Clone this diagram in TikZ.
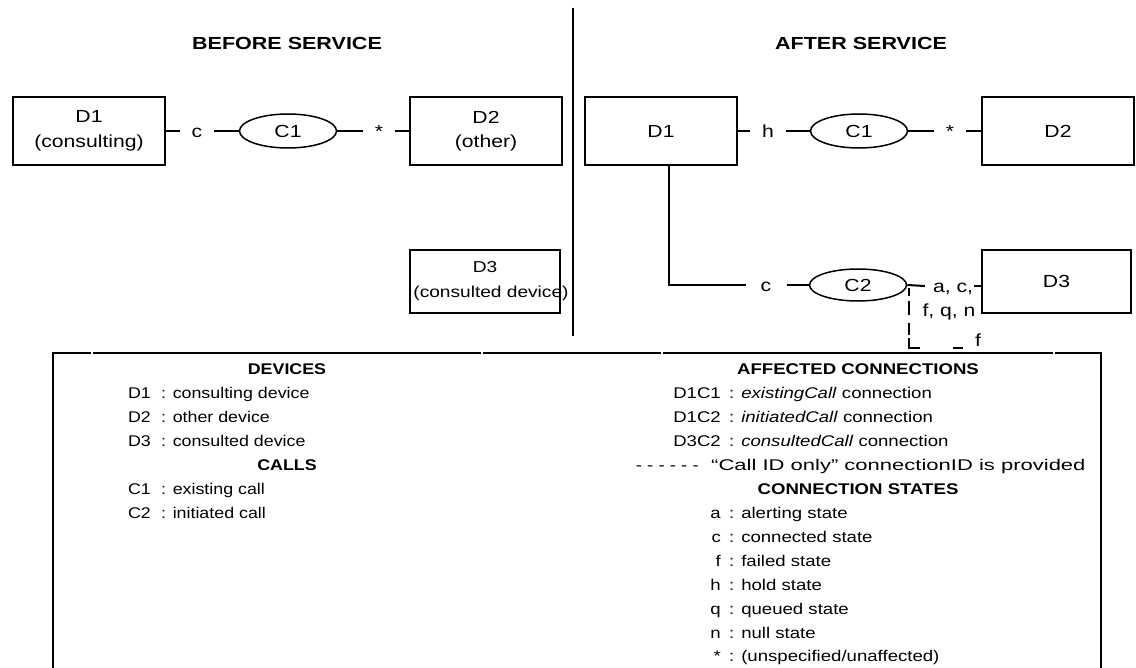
\documentclass[tikz,border=0pt]{standalone}
\usepackage{fontspec}
\setmainfont{Liberation Sans}
\usepackage{graphicx}
\usetikzlibrary{shapes.geometric}
\newcommand{\sx}[1]{\scalebox{1.21}[1]{#1}}
\newcommand{\sxt}[1]{\scalebox{1.23}[1]{#1}}
\newcommand{\sxl}[1]{\scalebox{1.15}[1]{#1}}
\newcommand{\sxr}[1]{\scalebox{1.2}[1]{#1}}
\newcommand{\dgfont}{\fontsize{17.5}{24.5}\selectfont}
\newcommand{\dgsfont}{\fontsize{15.8}{25}\selectfont}
\newcommand{\lgfont}{\fontsize{15.5}{18}\selectfont}
\tikzset{
  dev/.style={draw, line width=2pt, minimum width=152pt, minimum height=68pt, align=center, font=\dgfont, inner sep=0pt},
  call/.style={draw, ellipse, line width=1.5pt, minimum width=97pt, minimum height=34pt, inner sep=0pt, font=\dgfont},
  st/.style={font=\dgfont, inner xsep=12pt, inner ysep=0pt, text height=12.5pt, text depth=0pt},
  conn/.style={line width=2pt},
  frame/.style={line width=2.5pt},
  ttl/.style={font=\dgfont\bfseries, inner sep=0pt, text height=12.5pt, text depth=0pt},
  head/.style={font=\lgfont\bfseries, inner sep=0pt, text height=11pt, text depth=0pt},
  key/.style={anchor=east, inner sep=0pt, font=\lgfont, text height=11pt, text depth=0pt},
  desc/.style={anchor=west, inner sep=0pt, font=\lgfont, text height=11pt, text depth=0pt},
}
\begin{document}
\begin{tikzpicture}[x=1pt,y=-1pt]
\useasboundingbox (0,0) rectangle (1136,668);
% titles and divider
\node[ttl] (tb) at (287,43) {\sxt{BEFORE SERVICE}};
\node[ttl] (ta) at (861,43) {\sxt{AFTER SERVICE}};
\draw[line width=1.5pt] (573,8) -- (573,336);
% before service
\node[dev] (bD1) at (89,131) {\sx{D1}\\\sx{(consulting)}};
\node[st] (bc) at (197,131) {\sx{c}};
\node[call] (bC1) at (288,131) {\sx{C1}};
\node[st] (bs) at (379,131) {\sx{*}};
\node[dev] (bD2) at (486,131) {\sx{D2}\\\sx{(other)}};
\node[dev, font=\dgsfont, minimum width=150pt, minimum height=63pt] (bD3) at (485,281.5)
  {\sx{D3}\\\makebox[0pt]{\hspace*{12pt}\sx{(consulted device)}}};
\draw[conn] (bD1) -- (bc) -- (bC1) -- (bs) -- (bD2);
% after service
\node[dev] (aD1) at (661,131) {\sx{D1}};
\node[st] (ah) at (768,131) {\sx{h}};
\node[call] (aC1) at (859,131) {\sx{C1}};
\node[st] (as) at (950,131) {\sx{*}};
\node[dev] (aD2) at (1058,131) {\sx{D2}};
\node[st, inner xsep=15pt] (ac) at (766,285) {\sx{c}};
\node[call, minimum height=32pt] (aC2) at (858,285) {\sx{C2}};
\node[dev, minimum width=149pt, minimum height=63pt] (aD3) at (1056.5,281.5) {\sx{D3}};
\node[st, inner xsep=0pt] (lac) at (953,286) {\sx{a, c,}};
\node[st, inner xsep=0pt] (lfqn) at (949,310) {\sx{f, q, n}};
\node[st, inner xsep=0pt] (lf) at (978,340) {\sx{f}};
\coordinate (fend) at (963,348);
\draw[conn] (aD1) -- (ah) -- (aC1) -- (as) -- (aD2);
\draw[conn] ([xshift=8pt]aD1.south) |- (ac) -- (aC2);
\draw[conn] (aC2.east) -- ([xshift=-8pt]lac.west);
\draw[conn] ([xshift=1pt]lac.east) -- (aD3.west |- lac);
\draw[conn, dash pattern=on 8.4pt off 5pt on 13.3pt off 8.3pt on 11.7pt off 3.3pt on 21pt off 32.7pt on 11pt off 20pt]
  ([xshift=2pt,yshift=-3pt]aC2.east) |- (fend);
% legend frame (top rule drawn in pieces, as in the original)
\draw[frame] (53,670) -- (53,353) -- (91,353);
\draw[frame] (93,353) -- (481,353);
\draw[frame] (483,353) -- (661,353);
\draw[frame] (663,353) -- (1053,353);
\draw[frame] (1055,353) -- (1101,353) -- (1101,670);
% legend left
\node[head] (hdev) at (287,369) {\sxl{DEVICES}};
\node[key] (kD1) at (151,393) {\sxl{D1}};
\node[desc] (dD1) at (161,393) {\sxl{: consulting device}};
\node[key] (kD2) at (151,417) {\sxl{D2}};
\node[desc] (dD2) at (161,417) {\sxl{: other device}};
\node[key] (kD3) at (151,441) {\sxl{D3}};
\node[desc] (dD3) at (161,441) {\sxl{: consulted device}};
\node[head] (hcalls) at (287,465) {\sxl{CALLS}};
\node[key] (kC1) at (151,489) {\sxl{C1}};
\node[desc] (dC1) at (161,489) {\sxl{: existing call}};
\node[key] (kC2) at (151,513) {\sxl{C2}};
\node[desc] (dC2) at (161,513) {\sxl{: initiated call}};
% legend right
\node[head] (hac) at (858,369) {\sxr{AFFECTED CONNECTIONS}};
\node[key] (kD1C1) at (721,393) {\sxr{D1C1}};
\node[desc] (dD1C1) at (729,393) {\sxr{: \textit{existingCall} connection}};
\node[key] (kD1C2) at (721,417) {\sxr{D1C2}};
\node[desc] (dD1C2) at (729,417) {\sxr{: \textit{initiatedCall} connection}};
\node[key] (kD3C2) at (721,441) {\sxr{D3C2}};
\node[desc] (dD3C2) at (729,441) {\sxr{: \textit{consultedCall} connection}};
\node[key] (kdash) at (699,465) {\sxr{- - - - - -}};
\node[desc] (ddash) at (711,465) {\scalebox{1.42}[1]{“Call ID only” connectionID is provided}};
\node[head] (hcs) at (858,489) {\sxr{CONNECTION STATES}};
\node[key] (ka) at (721,513) {\sxr{a}};
\node[desc] (da) at (729,513) {\sxr{: alerting state}};
\node[key] (kc) at (721,537) {\sxr{c}};
\node[desc] (dc) at (729,537) {\sxr{: connected state}};
\node[key] (kf) at (721,561) {\sxr{f}};
\node[desc] (df) at (729,561) {\sxr{: failed state}};
\node[key] (kh) at (721,585) {\sxr{h}};
\node[desc] (dh) at (729,585) {\sxr{: hold state}};
\node[key] (kq) at (721,609) {\sxr{q}};
\node[desc] (dq) at (729,609) {\sxr{: queued state}};
\node[key] (kn) at (721,633) {\sxr{n}};
\node[desc] (dn) at (729,633) {\sxr{: null state}};
\node[key] (kst) at (721,656) {\sxr{*}};
\node[desc] (dst) at (729,656) {\sxr{: (unspecified/unaffected)}};
\end{tikzpicture}
\end{document}
